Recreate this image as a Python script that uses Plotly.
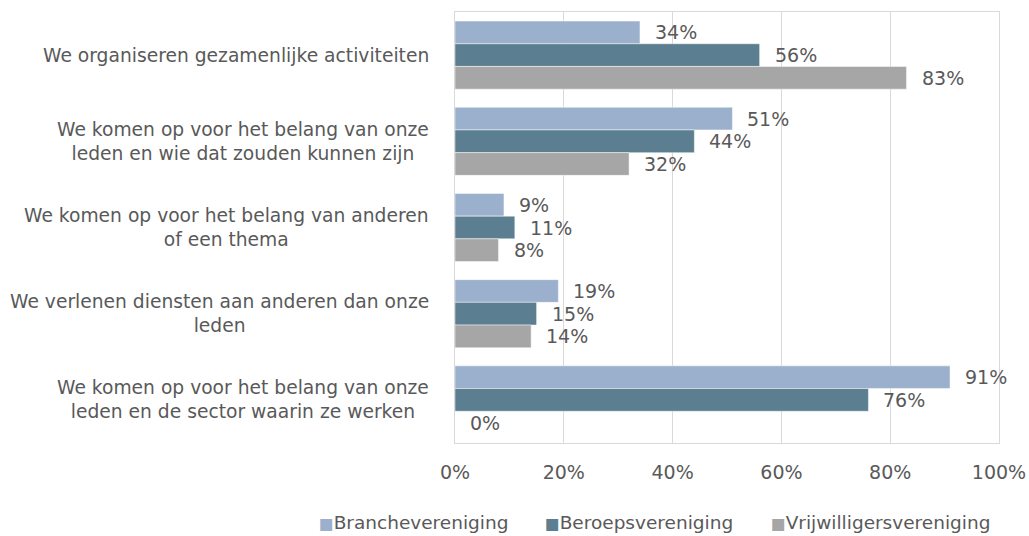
import plotly.graph_objects as go

# Survey answers per type of association (share of respondents, %)
categories = [
    "We organiseren gezamenlijke activiteiten",
    "We komen op voor het belang van onze<br>leden en wie dat zouden kunnen zijn",
    "We komen op voor het belang van anderen<br>of een thema",
    "We verlenen diensten aan anderen dan onze<br>leden",
    "We komen op voor het belang van onze<br>leden en de sector waarin ze werken",
]
series_names = ["Branchevereniging", "Beroepsvereniging", "Vrijwilligersvereniging"]
branche = [34, 51, 9, 19, 91]
beroeps = [56, 44, 11, 15, 76]
vrijwilligers = [83, 32, 8, 14, 0]
series_values = [branche, beroeps, vrijwilligers]
x_ticks = [0, 20, 40, 60, 80, 100]

colors = ["#9BB0CC", "#5B7F91", "#A6A6A6"]
text_color = "#595959"
font_family = "DejaVu Sans, Verdana, sans-serif"
value_size = 19
cat_size = 18.7
legend_size = 18.5

bargap = 0.21
bar_w = (1 - bargap) / len(series_values)
positions = list(range(len(categories)))

fig = go.Figure()
for name, vals, col in zip(series_names, series_values, colors):
    fig.add_trace(go.Bar(
        y=positions, x=vals, orientation="h", name=name,
        marker=dict(color=col, line=dict(color="rgba(255,255,255,0.6)", width=0.8)),
        showlegend=False, hoverinfo="x+name",
    ))

annotations = []
# value labels just right of each bar end
for k, vals in enumerate(series_values):
    offset = (k - (len(series_values) - 1) / 2) * bar_w
    for i, v in enumerate(vals):
        annotations.append(dict(
            x=v, y=i + offset, xref="x", yref="y", text=f"{v}%",
            showarrow=False, xanchor="left", yanchor="middle", xshift=13,
            font=dict(size=value_size, color=text_color, family=font_family),
        ))

# centred, wrapped category labels left of the plot
for i, cat in enumerate(categories):
    annotations.append(dict(
        x=0, y=i, xref="paper", yref="y", text=cat, showarrow=False,
        xanchor="right", yanchor="middle", align="center", xshift=-24,
        font=dict(size=cat_size, color=text_color, family=font_family),
    ))

# legend row below the axis
legend_x = [-0.2536, 0.1618, 0.5772]
for name, col, lx in zip(series_names, colors, legend_x):
    annotations.append(dict(
        x=lx, y=-0.1855, xref="paper", yref="paper",
        text=f'<span style="color:{col};font-size:15.5px">■</span>{name}',
        showarrow=False, xanchor="left", yanchor="middle",
        font=dict(size=legend_size, color=text_color, family=font_family),
    ))

fig.update_layout(
    width=1029, height=536,
    margin=dict(l=455, r=30, t=12, b=93),
    paper_bgcolor="white", plot_bgcolor="white",
    barmode="group", bargap=bargap, bargroupgap=0,
    annotations=annotations,
    font=dict(family=font_family, color=text_color),
    xaxis=dict(
        range=[0, 100], tickvals=x_ticks, ticktext=[f"{t}%" for t in x_ticks],
        showgrid=True, gridcolor="#D9D9D9", gridwidth=1,
        showline=True, linecolor="#D9D9D9", mirror=True,
        zeroline=False, ticklabelstandoff=12, automargin=False,
        tickfont=dict(size=value_size, color=text_color, family=font_family),
    ),
    yaxis=dict(
        range=[len(categories) - 0.5, -0.5], showticklabels=False,
        showgrid=False, zeroline=False, automargin=False,
        showline=True, linecolor="#D9D9D9", mirror=True,
    ),
)

fig.write_html("out.html")
